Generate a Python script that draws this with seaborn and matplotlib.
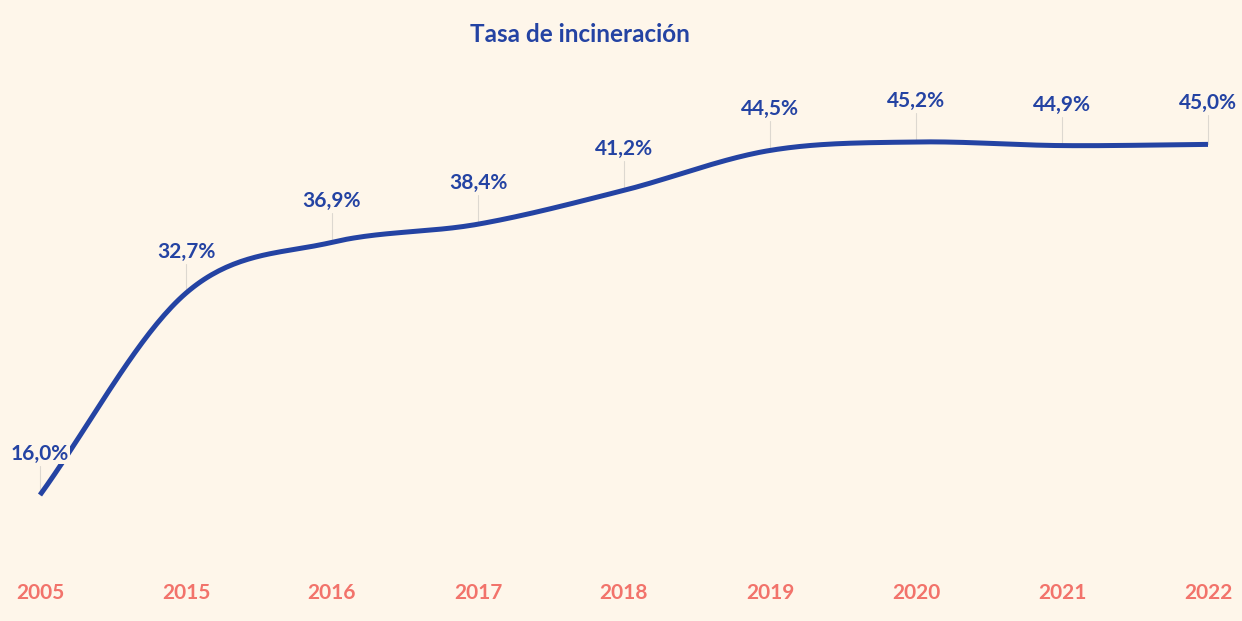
import matplotlib as mpl
import matplotlib.pyplot as plt
import seaborn as sns
import numpy as np
import pandas as pd

mpl.use('agg')

# Data
years = ['2005', '2015', '2016', '2017', '2018', '2019', '2020', '2021', '2022']
rates = [16.0, 32.7, 36.9, 38.4, 41.2, 44.5, 45.2, 44.9, 45.0]
labels = ['16,0%', '32,7%', '36,9%', '38,4%', '41,2%', '44,5%', '45,2%', '44,9%', '45,0%']

bg = '#FEF6EA'
line_col = '#2443A3'
tick_col = '#F2736B'

sns.set_theme(style='white')
plt.rcParams['font.family'] = ['Lato', 'DejaVu Sans']


def catmull_rom(y, n=40):
    # Smooth curve through the points (like Excel's smoothed line)
    pts = np.array(y, dtype=float)
    ext = np.concatenate([[2 * pts[0] - pts[1]], pts, [2 * pts[-1] - pts[-2]]])
    xs, ys = [], []
    for i in range(len(pts) - 1):
        p0, p1, p2, p3 = ext[i], ext[i + 1], ext[i + 2], ext[i + 3]
        t = np.linspace(0, 1, n, endpoint=False)
        yy = 0.5 * ((2 * p1) + (-p0 + p2) * t + (2 * p0 - 5 * p1 + 4 * p2 - p3) * t ** 2
                    + (-p0 + 3 * p1 - 3 * p2 + p3) * t ** 3)
        xs.extend(i + t)
        ys.extend(yy)
    xs.append(len(pts) - 1)
    ys.append(pts[-1])
    return np.array(xs), np.array(ys)


sx, sy = catmull_rom(rates)
smooth_df = pd.DataFrame({'x': sx, 'rate': sy})

fig = plt.figure(figsize=(12.42, 6.21), dpi=100)
fig.patch.set_facecolor(bg)
ax = fig.add_axes([0, 56 / 621, 1, 505 / 621])
ax.set_facecolor(bg)

sns.lineplot(data=smooth_df, x='x', y='rate', color=line_col, linewidth=3.6, ax=ax,
             solid_capstyle='butt', zorder=2)

# Value labels with thin leader lines
for i, (v, lab) in enumerate(zip(rates, labels)):
    ax.plot([i, i], [v, v + 2.4], color='#DDD8D0', linewidth=0.8, zorder=1)
    ax.text(i, v + 3.4, lab, ha='center', va='center', fontsize=15, fontweight='bold',
            color=line_col, zorder=3,
            bbox=dict(facecolor=bg, edgecolor='none', pad=0.3))

ax.set_xlim(-0.274, 8.233)
ax.set_ylim(10.21, 51.98)
ax.set_xticks(range(len(years)))
ax.set_xticklabels(years, fontsize=15, fontweight='bold', color=tick_col)
ax.tick_params(axis='x', length=0, pad=13)
ax.set_yticks([])
ax.set_xlabel('')
ax.set_ylabel('')
for s in ax.spines.values():
    s.set_visible(False)

fig.text(580 / 1242, 1 - 35 / 621, 'Tasa de incineración', ha='center', va='center',
         fontsize=17.5, fontweight='bold', color=line_col)

fig.savefig('out.png', dpi=100, facecolor=bg)
